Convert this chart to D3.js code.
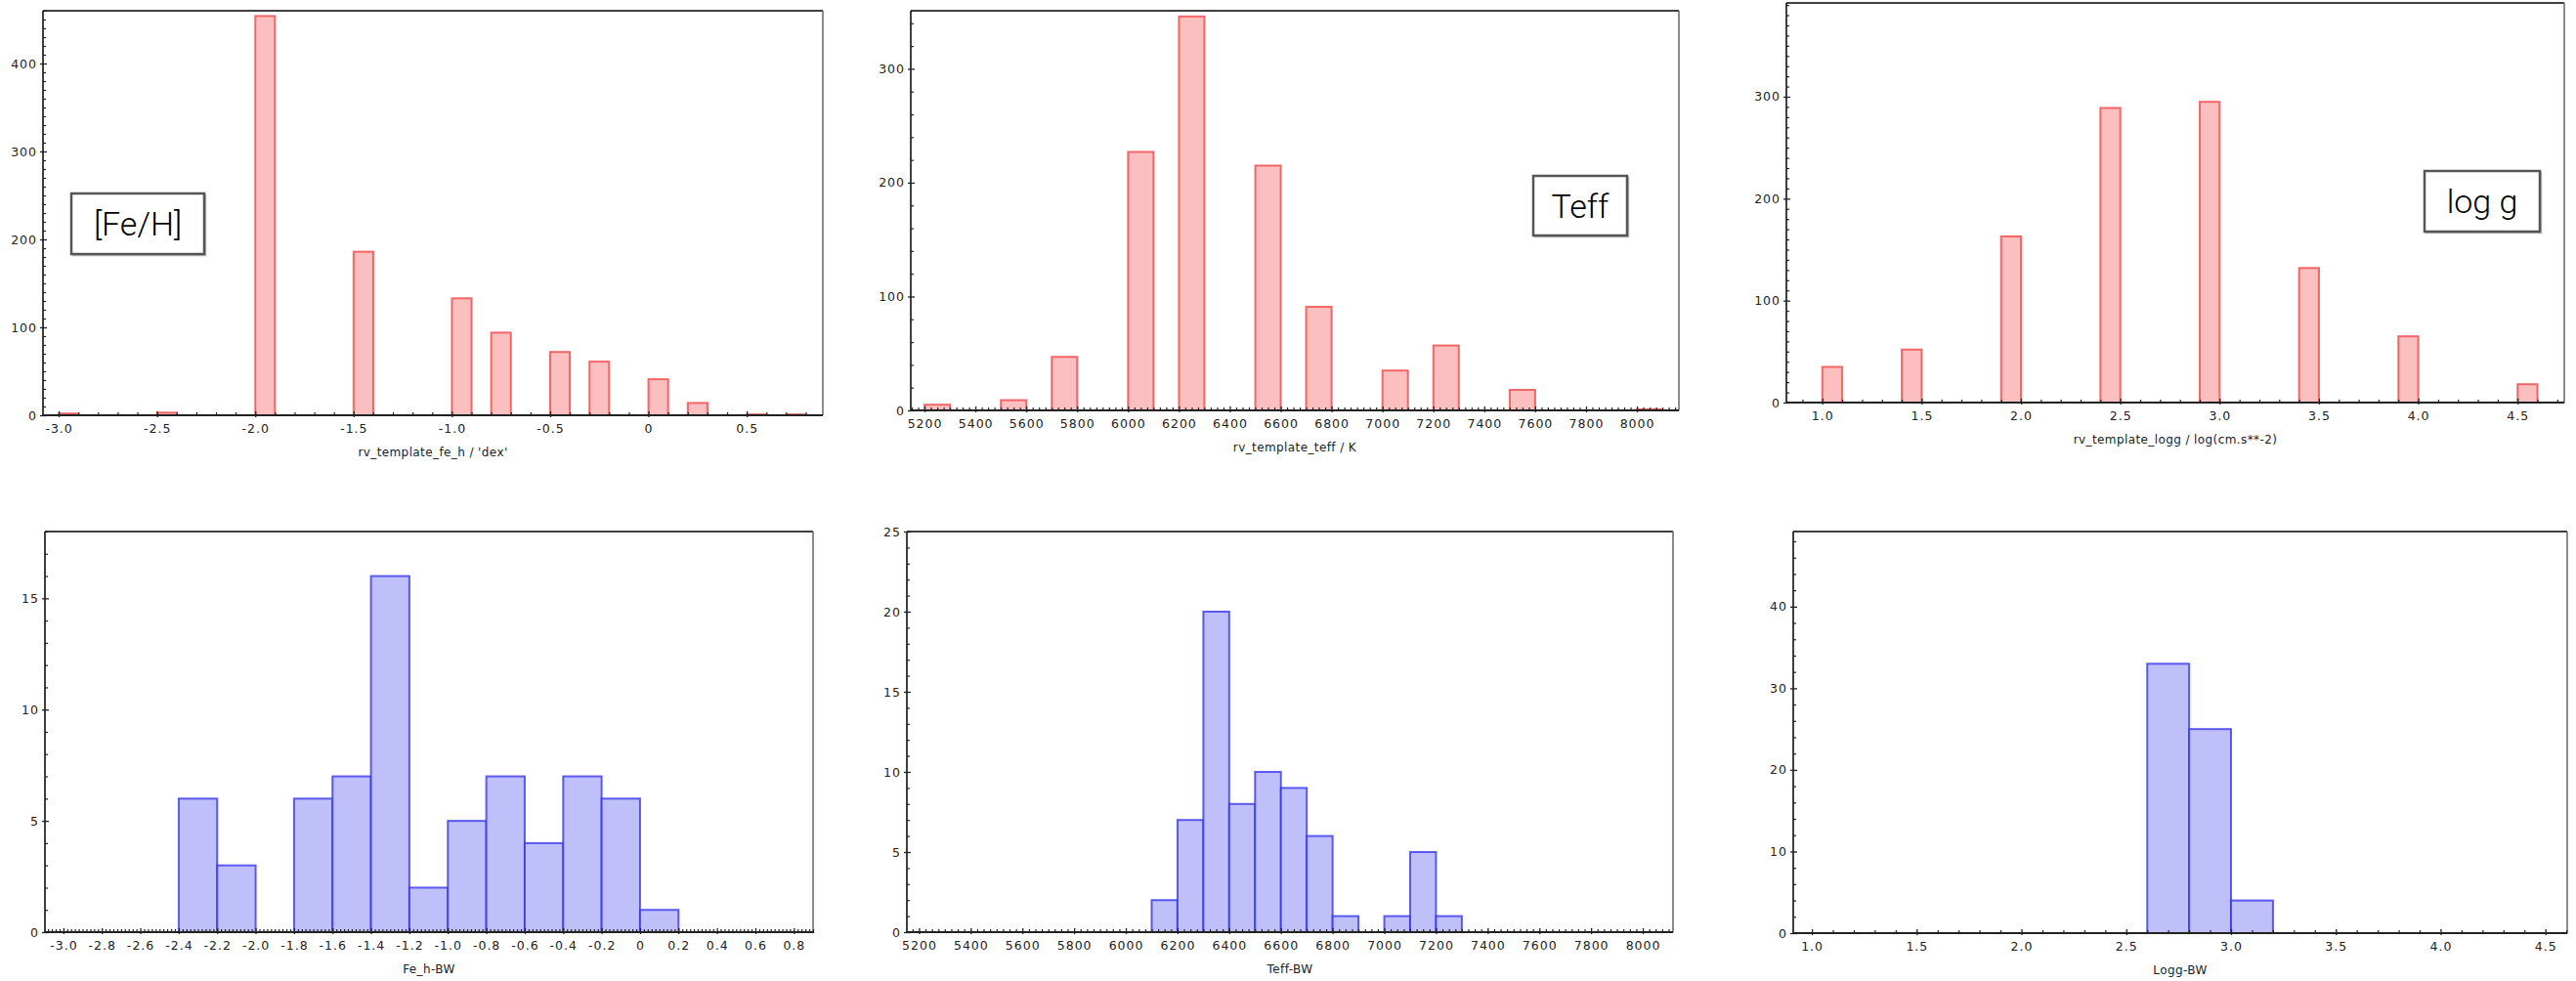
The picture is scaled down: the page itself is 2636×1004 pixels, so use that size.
<!DOCTYPE html>
<html>
<head>
<meta charset="utf-8">
<script src="https://cdnjs.cloudflare.com/ajax/libs/d3/7.8.5/d3.min.js"></script>
<style>
  html, body { margin: 0; padding: 0; background: #fff; }
  svg { display: block; }
  .tick text { font-family: "DejaVu Sans", sans-serif; font-size: 12.5px; letter-spacing: 1px; fill: #222; }
  .title { font-family: "DejaVu Sans", sans-serif; font-size: 12px; letter-spacing: 0.4px; fill: #222; }
  .legend { font-family: "Roboto", "Liberation Sans", sans-serif; font-weight: 300; font-size: 34px; fill: #000; }
</style>
</head>
<body>
<script>
// ---------------- DATA ----------------
// Top row: rv_template histograms (bin starts, counts)
const feBins    = [-3.0, -2.5, -2.0, -1.5, -1.0, -0.8, -0.5, -0.3, 0.0, 0.2, 0.5, 0.7];
const feCounts  = [2, 3, 454, 186, 133, 94, 72, 61, 41, 14, 1, 1];
const feBinWidth = 0.1;

const teffBins   = [5200, 5500, 5700, 6000, 6200, 6500, 6700, 7000, 7200, 7500, 8000];
const teffCounts = [5, 9, 47, 227, 346, 215, 91, 35, 57, 18, 1];
const teffBinWidth = 100;

const loggBins   = [1.0, 1.4, 1.9, 2.4, 2.9, 3.4, 3.9, 4.5];
const loggCounts = [35, 52, 163, 289, 295, 132, 65, 18];
const loggBinWidth = 0.1;

// Bottom row: BW histograms
const feBwBins   = [-2.4, -2.2, -1.8, -1.6, -1.4, -1.2, -1.0, -0.8, -0.6, -0.4, -0.2, 0.0];
const feBwCounts = [6, 3, 6, 7, 16, 2, 5, 7, 4, 7, 6, 1];
const feBwBinWidth = 0.2;

const teffBwBins   = [6100, 6200, 6300, 6400, 6500, 6600, 6700, 6800, 7000, 7100, 7200];
const teffBwCounts = [2, 7, 20, 8, 10, 9, 6, 1, 1, 5, 1];
const teffBwBinWidth = 100;

const loggBwBins   = [2.6, 2.8, 3.0];
const loggBwCounts = [33, 25, 4];
const loggBwBinWidth = 0.2;

// Tick values
const feXTicks    = [-3.0, -2.5, -2.0, -1.5, -1.0, -0.5, 0, 0.5];
const teffXTicks  = [5200, 5400, 5600, 5800, 6000, 6200, 6400, 6600, 6800, 7000, 7200, 7400, 7600, 7800, 8000];
const loggXTicks  = [1.0, 1.5, 2.0, 2.5, 3.0, 3.5, 4.0, 4.5];
const feBwXTicks  = [-3.0, -2.8, -2.6, -2.4, -2.2, -2.0, -1.8, -1.6, -1.4, -1.2, -1.0, -0.8, -0.6, -0.4, -0.2, 0, 0.2, 0.4, 0.6, 0.8];
const feYTicks    = [0, 100, 200, 300, 400];
const teffYTicks  = [0, 100, 200, 300];
const loggYTicks  = [0, 100, 200, 300];
const feBwYTicks  = [0, 5, 10, 15];
const teffBwYTicks = [0, 5, 10, 15, 20, 25];
const loggBwYTicks = [0, 10, 20, 30, 40];

// Titles / legend labels
const xTitles = ["rv_template_fe_h / 'dex'", "rv_template_teff / K", "rv_template_logg / log(cm.s**-2)", "Fe_h-BW", "Teff-BW", "Logg-BW"];
const legendLabels = ["[Fe/H]", "Teff", "log g"];

// ---------------- LAYOUT ----------------
const W = 2636, H = 1004;
const RED = { fill: "#fbbfc0", stroke: "rgba(240,72,72,0.8)" };
const BLUE = { fill: "#bfbff9", stroke: "rgba(45,45,235,0.75)" };

const fmt1 = v => Math.abs(v) < 1e-9 ? "0" : v.toFixed(1).replace("\u2212", "-");
const fmt0 = v => String(Math.round(v));

const panels = [
  { bins: feBins, counts: feCounts, bw: feBinWidth, xt: feXTicks, xMinor: 0.1, yt: feYTicks, yMinor: 10,
    xDom: [-3.08, 0.887], yDom: [0, 460], box: [44, 11, 842, 425], fx: fmt1, title: xTitles[0], col: RED,
    legend: { text: legendLabels[0], x: 73, y: 198, w: 136, h: 62 } },
  { bins: teffBins, counts: teffCounts, bw: teffBinWidth, xt: teffXTicks, xMinor: 25, yt: teffYTicks, yMinor: 20,
    xDom: [5146, 8165], yDom: [0, 351], box: [932, 11, 1718, 420], fx: fmt0, title: xTitles[1], col: RED,
    legend: { text: legendLabels[1], x: 1569, y: 180, w: 96, h: 61 } },
  { bins: loggBins, counts: loggCounts, bw: loggBinWidth, xt: loggXTicks, xMinor: 0.1, yt: loggYTicks, yMinor: 10,
    xDom: [0.819, 4.735], yDom: [0, 392], box: [1828, 3, 2624, 412], fx: fmt1, title: xTitles[2], col: RED,
    legend: { text: legendLabels[2], x: 2481, y: 175, w: 118, h: 62 } },
  { bins: feBwBins, counts: feBwCounts, bw: feBwBinWidth, xt: feBwXTicks, xMinor: 0.02, yt: feBwYTicks, yMinor: 1,
    xDom: [-3.096, 0.9], yDom: [0, 18], box: [46, 544, 832, 954], fx: fmt1, title: xTitles[3], col: BLUE },
  { bins: teffBwBins, counts: teffBwCounts, bw: teffBwBinWidth, xt: teffXTicks, xMinor: 25, yt: teffBwYTicks, yMinor: 1,
    xDom: [5153, 8117], yDom: [0, 25], box: [928, 544, 1712, 954], fx: fmt0, title: xTitles[4], col: BLUE },
  { bins: loggBwBins, counts: loggBwCounts, bw: loggBwBinWidth, xt: loggXTicks, xMinor: 0.1, yt: loggBwYTicks, yMinor: 2,
    xDom: [0.911, 4.604], yDom: [0, 49.2], box: [1835, 544, 2627, 955], fx: fmt1, title: xTitles[5], col: BLUE }
];

const svg = d3.select("body").append("svg").attr("width", W).attr("height", H);
svg.append("rect").attr("width", W).attr("height", H).attr("fill", "#fff");

function minorTicks(dom, step, major) {
  const out = [];
  const i0 = Math.ceil(dom[0] / step - 1e-9), i1 = Math.floor(dom[1] / step + 1e-9);
  for (let i = i0; i <= i1; i++) {
    const v = +(i * step).toFixed(6);
    if (!major.some(m => Math.abs(m - v) < step * 1e-3)) out.push(v);
  }
  return out;
}

panels.forEach((p, idx) => {
  const [L, T, R, B] = p.box;
  const x = d3.scaleLinear().domain(p.xDom).range([L, R]);
  const y = d3.scaleLinear().domain(p.yDom).range([B, T]);
  const g = svg.append("g");

  const clipId = "clip" + idx;
  svg.append("clipPath").attr("id", clipId).append("rect")
    .attr("x", L).attr("y", T).attr("width", R - L).attr("height", B - T);

  // bars
  const data = p.bins.map((b, i) => ({ b, c: p.counts[i] }));
  g.append("g").attr("clip-path", `url(#${clipId})`)
    .selectAll("rect").data(data).join("rect")
    .attr("x", d => x(d.b))
    .attr("width", d => x(d.b + p.bw) - x(d.b))
    .attr("y", d => y(d.c))
    .attr("height", d => y(0) - y(d.c))
    .attr("fill", p.col.fill)
    .attr("stroke", p.col.stroke)
    .attr("stroke-width", 2);

  // frame
  g.append("line").attr("x1", L).attr("x2", R).attr("y1", T).attr("y2", T).attr("stroke", "#000").attr("stroke-width", 1.5);
  g.append("line").attr("x1", R).attr("x2", R).attr("y1", T).attr("y2", B).attr("stroke", "#666").attr("stroke-width", 1.5);
  g.append("line").attr("x1", L).attr("x2", L).attr("y1", T).attr("y2", B).attr("stroke", "#000").attr("stroke-width", 1.5);
  g.append("line").attr("x1", L).attr("x2", R).attr("y1", B).attr("y2", B).attr("stroke", "#222").attr("stroke-width", 2);

  // x axis minor
  const xMin = minorTicks(p.xDom, p.xMinor, p.xt);
  g.append("g").attr("transform", `translate(0,${B})`)
    .call(d3.axisBottom(x).tickValues(xMin).tickFormat("").tickSizeInner(-3).tickSizeOuter(0))
    .call(a => a.select(".domain").remove())
    .call(a => a.selectAll("line").attr("stroke", "#222").attr("stroke-width", 1.2).attr("y1", 1));
  // x axis major
  g.append("g").attr("transform", `translate(0,${B})`)
    .call(d3.axisBottom(x).tickValues(p.xt).tickFormat(p.fx).tickSizeInner(-4).tickSizeOuter(0).tickPadding(9))
    .call(a => a.select(".domain").remove())
    .call(a => a.selectAll("line").attr("stroke", "#222").attr("stroke-width", 1.3).attr("y1", 2))
    .call(a => a.selectAll("text").attr("font-family", null).attr("font-size", null).attr("fill", null));

  // y axis minor
  const yMin = minorTicks(p.yDom, p.yMinor, p.yt);
  g.append("g").attr("transform", `translate(${L},0)`)
    .call(d3.axisLeft(y).tickValues(yMin).tickFormat("").tickSizeInner(-3).tickSizeOuter(0))
    .call(a => a.select(".domain").remove())
    .call(a => a.selectAll("line").attr("stroke", "#222").attr("stroke-width", 1.2));
  // y axis major
  g.append("g").attr("transform", `translate(${L},0)`)
    .call(d3.axisLeft(y).tickValues(p.yt).tickFormat(fmt0).tickSizeInner(-4).tickSizeOuter(0).tickPadding(6))
    .call(a => a.select(".domain").remove())
    .call(a => a.selectAll("line").attr("stroke", "#222").attr("stroke-width", 1.3).attr("x1", -3))
    .call(a => a.selectAll("text").attr("font-family", null).attr("font-size", null).attr("fill", null));

  // x title
  g.append("text").attr("class", "title")
    .attr("x", (L + R) / 2).attr("y", B + 42)
    .attr("text-anchor", "middle")
    .text(p.title);

  // legend box
  if (p.legend) {
    const lg = p.legend;
    g.append("rect").attr("x", lg.x + 1.5).attr("y", lg.y + 1.5).attr("width", lg.w).attr("height", lg.h)
      .attr("fill", "none").attr("stroke", "#bbb").attr("stroke-width", 1.5);
    g.append("rect").attr("x", lg.x).attr("y", lg.y).attr("width", lg.w).attr("height", lg.h)
      .attr("fill", "#fff").attr("stroke", "#555").attr("stroke-width", 2.5);
    g.append("text").attr("class", "legend")
      .attr("x", lg.x + lg.w / 2).attr("y", lg.y + lg.h / 2 + 12)
      .attr("text-anchor", "middle")
      .text(lg.text);
  }
});
</script>
</body>
</html>
